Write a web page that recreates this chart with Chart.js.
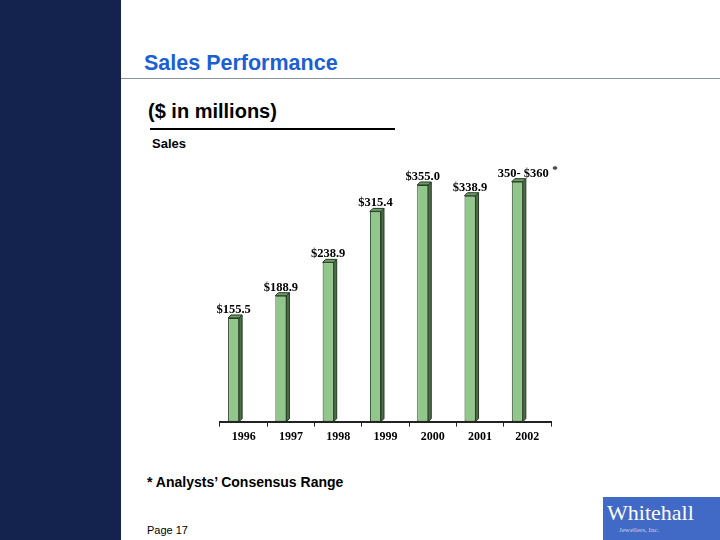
<!DOCTYPE html>
<html><head><meta charset="utf-8">
<script src="https://cdn.jsdelivr.net/npm/chart.js@4/dist/chart.umd.min.js"></script>
<style>
html,body{margin:0;padding:0;width:720px;height:540px;background:#fff;overflow:hidden;font-family:Arial,"Liberation Sans",sans-serif}
#band{position:absolute;left:0;top:0;width:121px;height:540px;background:#14234e}
#rule{position:absolute;left:121px;top:78px;width:599px;height:1px;background:#8a93a0}
#title{position:absolute;left:144px;top:51px;font-size:21.5px;font-weight:bold;color:#1a5fd6;white-space:nowrap}
#sub{position:absolute;left:148px;top:100px;font-size:20px;font-weight:bold;color:#000;white-space:nowrap}
#uline{position:absolute;left:150px;top:128px;width:245px;height:2px;background:#000}
#sales{position:absolute;left:152px;top:136px;font-size:13px;font-weight:bold;color:#000}
#note{position:absolute;left:147px;top:474px;font-size:14px;font-weight:bold;color:#000;white-space:nowrap}
#page{position:absolute;left:147px;top:524px;font-size:11px;color:#000}
#logo{position:absolute;left:603px;top:497px;width:117px;height:43px;background:#4169c6;color:#fff;font-family:"Liberation Serif",serif;font-size:22px;overflow:hidden}
#logo .w{position:absolute;left:4px;top:3px;white-space:nowrap}
#logo .s{position:absolute;left:16px;top:29px;font-size:7px;white-space:nowrap;color:#c8d4f0}
#wrap{position:absolute;left:200px;top:147px;width:370px;height:300px}
</style></head><body>
<div id="band"></div>
<div id="rule"></div>
<div id="title">Sales Performance</div>
<div id="sub">($ in millions)</div>
<div id="uline"></div>
<div id="sales">Sales</div>
<div id="wrap"><canvas id="c" width="370" height="300"></canvas></div>
<div id="note">* Analysts’ Consensus Range</div>
<div id="page">Page 17</div>
<div id="logo"><span class="w">Whitehall</span><span class="s">Jewellers, Inc.</span></div>
<script>
const years = ['1996','1997','1998','1999','2000','2001','2002'];
const sales = [155.5, 188.9, 238.9, 315.4, 355.0, 338.9, 360];
const valueLabels = ['$155.5','$188.9','$238.9','$315.4','$355.0','$338.9','350- $360'];
const spacer = [null,null,null,null,null,null,null];

const depth = 3;
const bar3d = {
  id:'bar3d',
  afterDatasetsDraw(chart){
    const ctx = chart.ctx;
    const meta = chart.getDatasetMeta(0);
    ctx.save();
    meta.data.forEach((el,i)=>{
      const p = el.getProps(['x','y','base','width'],true);
      const l = p.x - p.width/2, r = p.x + p.width/2;
      ctx.beginPath();
      ctx.moveTo(r,p.y); ctx.lineTo(r+depth,p.y-depth); ctx.lineTo(r+depth,p.base-depth); ctx.lineTo(r,p.base); ctx.closePath();
      ctx.fillStyle='#4c6e48'; ctx.fill(); ctx.strokeStyle='#233a20'; ctx.lineWidth=1; ctx.stroke();
      ctx.beginPath();
      ctx.moveTo(l,p.y); ctx.lineTo(l+depth,p.y-depth); ctx.lineTo(r+depth,p.y-depth); ctx.lineTo(r,p.y); ctx.closePath();
      ctx.fillStyle='#6f9a69'; ctx.fill(); ctx.stroke();
      ctx.fillStyle='#000';
      ctx.font='bold 12.5px "Liberation Serif", "Times New Roman", serif';
      ctx.textAlign='center'; ctx.textBaseline='alphabetic';
      let lx = p.x;
      if(i===6) lx = p.x + 6;
      ctx.fillText(valueLabels[i], lx, p.y - 5);
      if(i===6){
        ctx.font='bold 11px "Liberation Serif", serif';
        ctx.textAlign='left';
        ctx.fillText('*', lx + 29, p.y - 9);
      }
    });
    ctx.restore();
  }
};

new Chart(document.getElementById('c'),{
  type:'bar',
  data:{labels:years,datasets:[
    {data:sales,backgroundColor:'#92c78c',borderColor:'#2a4427',borderWidth:1,borderSkipped:false,barPercentage:0.55,categoryPercentage:0.85},
    {data:spacer,backgroundColor:'rgba(0,0,0,0)',barPercentage:0.55,categoryPercentage:0.85}
  ]},
  options:{
    responsive:false,animation:false,
    layout:{padding:{left:20,right:19,top:8,bottom:0}},
    plugins:{legend:{display:false},tooltip:{enabled:false}},
    scales:{
      y:{display:false,min:0,max:400},
      x:{
        grid:{display:true,drawOnChartArea:false,drawTicks:true,tickLength:5,color:'#222',offset:true},
        border:{display:true,color:'#222',width:2},
        ticks:{color:'#000',padding:3,font:{family:'"Liberation Serif", "Times New Roman", serif',size:12,weight:'bold'}}
      }
    }
  },
  plugins:[bar3d]
});
</script>
</body></html>
